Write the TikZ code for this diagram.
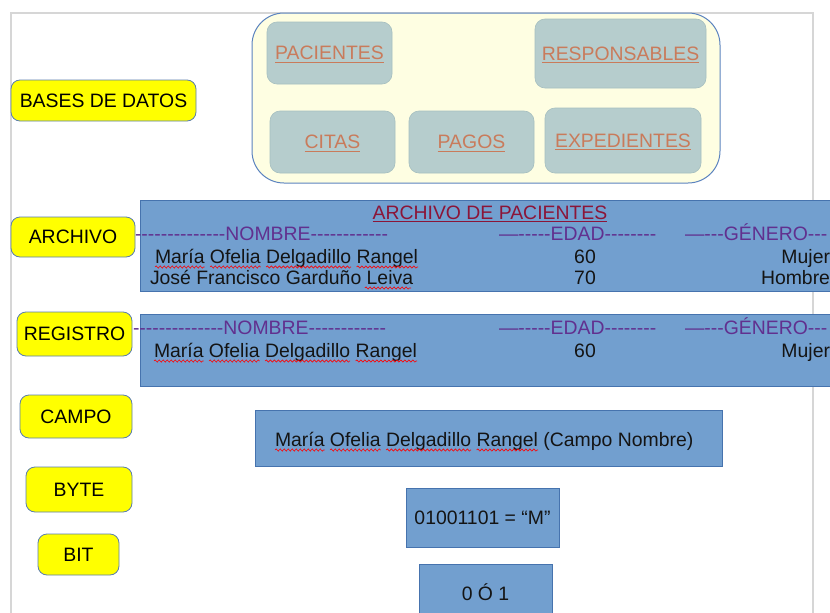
\documentclass[tikz,border=0pt]{standalone}
\usepackage{fontspec}
\setmainfont{Liberation Sans}
\usetikzlibrary{decorations.pathmorphing}

\definecolor{pagegray}{HTML}{D6D6D6}
\definecolor{lblyellow}{HTML}{FFFF00}
\definecolor{lblborder}{HTML}{5A7DAE}
\definecolor{dbfill}{HTML}{FEFEE2}
\definecolor{dbborder}{HTML}{5B83BF}
\definecolor{tealfill}{HTML}{B6CDCD}
\definecolor{tealborder}{HTML}{A6BFC0}
\definecolor{linkcol}{HTML}{C97B5B}
\definecolor{boxblue}{HTML}{729FCF}
\definecolor{boxborder}{HTML}{4673AE}
\definecolor{titlecol}{HTML}{8B1538}
\definecolor{hdrcol}{HTML}{61308F}
\definecolor{bodytext}{HTML}{141414}

% a run of plain hyphens, kept apart so they stay hyphens
\newcommand\hyph[1]{\foreach\k in {1,...,#1}{-}}
% wavy spell-check mark under part of a text node (offsets in pt from its start)
\newcommand\squiggle[3]{\draw[squig] ([xshift=#2pt,yshift=-4pt]#1.base west) -- ([xshift=#3pt,yshift=-4pt]#1.base west);}
% straight underline under a whole text node
\newcommand\uline[2][linkcol]{\draw[line width=1.2pt,#1] ([yshift=-2.5pt]#2.base west) -- ([yshift=-2.5pt]#2.base east);}

\begin{document}
\begin{tikzpicture}[x=1pt,y=-1pt,
  every node/.style={inner sep=0pt,outer sep=0pt,font=\fontsize{19.4}{23}\selectfont,text=bodytext},
  pageline/.style={draw=pagegray,line width=1.6pt},
  lbl/.style={draw=lblborder,fill=lblyellow,rounded corners=9pt,line width=0.8pt,text=black},
  dbframe/.style={draw=dbborder,fill=dbfill,rounded corners=32pt,line width=1pt},
  table/.style={draw=tealborder,fill=tealfill,rounded corners=10pt,line width=0.6pt},
  linktxt/.style={text=linkcol},
  bluebox/.style={draw=boxborder,fill=boxblue,line width=0.8pt},
  titletxt/.style={text=titlecol},
  hdr/.style={text=hdrcol},
  squig/.style={draw=red,line width=0.6pt,decorate,decoration={snake,amplitude=1.1pt,segment length=4pt}}
]
\path[use as bounding box] (0,0) rectangle (830,613);
\clip (0,0) rectangle (830,613);

% page frame
\coordinate (pgBL) at (11,613);
\coordinate (pgTL) at (11,13);
\coordinate (pgTR) at (813,13);
\coordinate (pgBR) at (813,613);
\draw[pageline] (pgBL) -- (pgTL) -- (pgTR) -- (pgBR);

% database with its tables
\node[dbframe,minimum width=468pt,minimum height=170pt] (db) at (486,98) {};
\node[table,minimum width=125pt,minimum height=62pt] (pac)   at (329.5,53) {};
\node[table,minimum width=171pt,minimum height=69pt] (resp)  at (620.5,53.5) {};
\node[table,minimum width=125pt,minimum height=62pt] (citas) at (332.5,142) {};
\node[table,minimum width=125pt,minimum height=62pt] (pagos) at (471.5,142) {};
\node[table,minimum width=156pt,minimum height=65pt] (exped) at (623,140.5) {};
\node[linktxt] (tpac)   at (pac)   {PACIENTES};
\node[linktxt] (tresp)  at (resp)  {RESPONSABLES\ };
\node[linktxt] (tcitas) at (citas) {CITAS};
\node[linktxt] (tpagos) at (pagos) {PAGOS};
\node[linktxt] (texped) at (exped) {EXPEDIENTES};
\uline{tpac}
\uline{tresp}
\uline{tcitas}
\uline{tpagos}
\uline{texped}

% level labels
\node[lbl,minimum width=185pt,minimum height=41pt] (lbases) at (103.5,100.5) {BASES DE DATOS};
\node[lbl,minimum width=124pt,minimum height=40pt] (larch)  at (73,237) {ARCHIVO};
\node[lbl,minimum width=115pt,minimum height=44pt] (lreg)   at (74.5,334) {REGISTRO};
\node[lbl,minimum width=112pt,minimum height=43pt] (lcampo) at (76,416.5) {CAMPO};
\node[lbl,minimum width=106pt,minimum height=45pt] (lbyte)  at (79,489.5) {BYTE};
\node[lbl,minimum width=81pt,minimum height=41pt]  (lbit)   at (78.5,554.5) {BIT};

% file
\node[bluebox,minimum width=720pt,minimum height=91pt] (arch) at (500,245.5) {};
\node[titletxt,anchor=base] (ttl) at (490,219) {ARCHIVO DE PACIENTES\ };
\uline[titlecol]{ttl}
\node[hdr,anchor=base west] (anom)  at (135,240) {\hyph{14}NOMBRE\hyph{12}};
\node[hdr,anchor=base west] (aedad) at (499,240) {—\hyph{5}EDAD\hyph{8}};
\node[hdr,anchor=base west] (agen)  at (685,240) {—\hyph{3}GÉNERO\hyph{3}};
\node[anchor=base west] (a1n) at (155,263) {María Ofelia Delgadillo Rangel};
\node[anchor=base]      (a1e) at (585,263) {60};
\node[anchor=base east] (a1g) at (830,263) {Mujer};
\node[anchor=base west] (a2n) at (150,284) {José Francisco Garduño Leiva};
\node[anchor=base]      (a2e) at (585,284) {70};
\node[anchor=base east] (a2g) at (830,284) {Hombre};
\squiggle{a1n}{0}{49.6}
\squiggle{a1n}{55.0}{105.7}
\squiggle{a1n}{111.1}{196.2}
\squiggle{a1n}{201.6}{263.1}
\squiggle{a2n}{214.8}{261.1}

% record
\node[bluebox,minimum width=720pt,minimum height=72pt] (reg) at (500,350) {};
\node[hdr,anchor=base west] (rnom)  at (133,334) {\hyph{14}NOMBRE\hyph{12}};
\node[hdr,anchor=base west] (redad) at (499,334) {—\hyph{5}EDAD\hyph{8}};
\node[hdr,anchor=base west] (rgen)  at (685,334) {—\hyph{3}GÉNERO\hyph{3}};
\node[anchor=base west] (r1n) at (154,357) {María Ofelia Delgadillo Rangel};
\node[anchor=base]      (r1e) at (585,357) {60};
\node[anchor=base east] (r1g) at (830,357) {Mujer};
\squiggle{r1n}{0}{49.6}
\squiggle{r1n}{55.0}{105.7}
\squiggle{r1n}{111.1}{196.2}
\squiggle{r1n}{201.6}{263.1}

% field
\node[bluebox,minimum width=467pt,minimum height=56pt] (campo) at (488.5,438) {};
\node[anchor=base west] (cval) at (275,446) {María Ofelia Delgadillo Rangel (Campo Nombre)};
\squiggle{cval}{0}{49.6}
\squiggle{cval}{55.0}{105.7}
\squiggle{cval}{111.1}{196.2}
\squiggle{cval}{201.6}{263.1}

% byte
\node[bluebox,minimum width=153pt,minimum height=59pt] (byte) at (482.5,517.5) {};
\node[anchor=base] (bval) at (482.5,524) {01001101 = “M”};

% bit
\node[bluebox,minimum width=133pt,minimum height=66pt] (bit) at (485.5,597) {};
\node[anchor=base] (tval) at (485.5,600) {0 Ó 1};
\end{tikzpicture}
\end{document}
